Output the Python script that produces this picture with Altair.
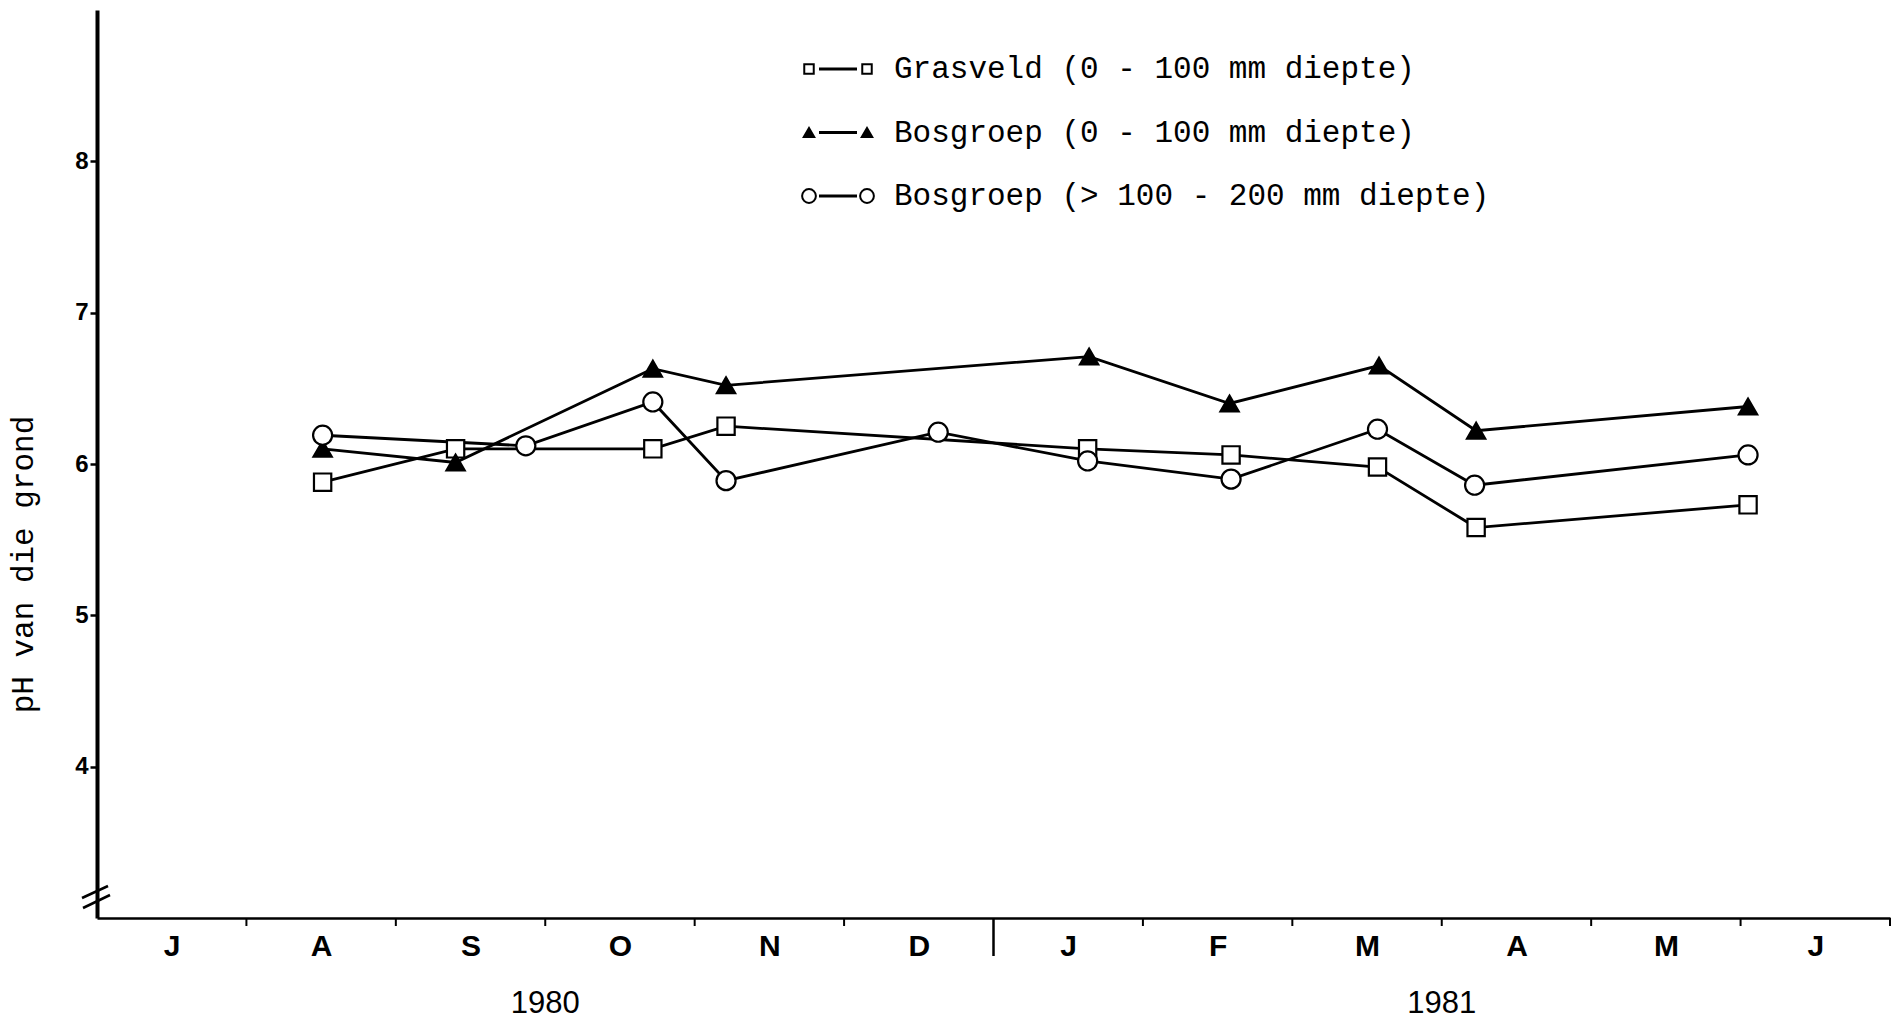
import json
import altair as alt
import pandas as pd

# ---------------- data ----------------
months = ["J", "A", "S", "O", "N", "D", "J", "F", "M", "A", "M", "J"]
month_centres = [0.5, 1.5, 2.5, 3.5, 4.5, 5.5, 6.5, 7.5, 8.5, 9.5, 10.5, 11.5]
month_ticks = [1, 2, 3, 4, 5, 7, 8, 9, 10, 11, 12]
year_break = [6]
years = ["1980", "1981"]
year_centres = [3, 9]
y_ticks = [4, 5, 6, 7, 8]

series = [
    "Grasveld (0 - 100 mm diepte)",
    "Bosgroep (0 - 100 mm diepte)",
    "Bosgroep (> 100 - 200 mm diepte)",
]
shapes = ["square", "triangle-up", "circle"]
fills = ["white", "black", "white"]
sizes = [115, 140, 165]
legend_sizes = [90, 110, 190]

gras_x = [1.51, 2.40, 3.72, 4.21, 6.63, 7.59, 8.57, 9.23, 11.05]
gras_y = [5.88, 6.10, 6.10, 6.25, 6.10, 6.06, 5.98, 5.58, 5.73]
bos_x = [1.51, 2.40, 3.72, 4.21, 6.64, 7.58, 8.58, 9.23, 11.05]
bos_y = [6.10, 6.01, 6.63, 6.52, 6.71, 6.40, 6.65, 6.22, 6.38]
diep_x = [1.51, 2.87, 3.72, 4.21, 5.63, 6.63, 7.59, 8.57, 9.22, 11.05]
diep_y = [6.19, 6.12, 6.41, 5.89, 6.21, 6.02, 5.90, 6.23, 5.86, 6.06]

# ---------------- tables ----------------
rows = []
for name, xs, ys in [(series[0], gras_x, gras_y), (series[1], bos_x, bos_y), (series[2], diep_x, diep_y)]:
    for xv, yv in zip(xs, ys):
        rows.append({"series": name, "x": xv, "y": yv})
df = pd.DataFrame(rows)

W, H = 1793, 908

x_scale = alt.Scale(domain=[0, 12], nice=False, zero=False)
y_scale = alt.Scale(domain=[3, 9], nice=False, zero=False)

x_axis = alt.Axis(
    values=month_centres,
    ticks=False,
    grid=False,
    labelExpr=f"{json.dumps(months)}[floor(datum.value)]",
    labelFont="Liberation Sans",
    labelFontWeight="bold",
    labelFontSize=30,
    labelColor="black",
    labelPadding=13,
    domainColor="black",
    domainWidth=2.5,
    title=None,
)
y_axis = alt.Axis(
    values=y_ticks,
    grid=False,
    tickSize=7,
    tickWidth=2.5,
    tickColor="black",
    labelFont="Liberation Sans",
    labelFontWeight="bold",
    labelFontSize=24,
    labelColor="black",
    labelPadding=2,
    domainColor="black",
    domainWidth=4,
    title="pH van die grond",
    titleFont="Liberation Mono",
    titleFontSize=31,
    titleFontWeight="normal",
    titleColor="black",
    titleX=-58,
    titleY=554,
    titleBaseline="bottom",
)

X = alt.X("x:Q", scale=x_scale, axis=x_axis)
Y = alt.Y("y:Q", scale=y_scale, axis=y_axis)

shape_enc = alt.Shape("series:N", scale=alt.Scale(domain=series, range=shapes), legend=None)
fill_enc = alt.Fill("series:N", scale=alt.Scale(domain=series, range=fills), legend=None)
size_enc = alt.Size("series:N", scale=alt.Scale(domain=series, range=sizes), legend=None)
halo_size_enc = alt.Size("series:N", scale=alt.Scale(domain=series, range=[s * 2.6 for s in sizes]), legend=None)

lines = alt.Chart(df).mark_line(color="black", strokeWidth=2.8).encode(
    x=X, y=Y, detail="series:N", order="x:Q"
)
halos = alt.Chart(df).mark_point(filled=True, color="white", opacity=1).encode(
    x=X, y=Y, shape=shape_enc, size=halo_size_enc
)
markers = alt.Chart(df).mark_point(stroke="black", strokeWidth=2.2, opacity=1, fillOpacity=1).encode(
    x=X, y=Y, shape=shape_enc, fill=fill_enc, size=size_enc
)

# axis ticks (short) and the year divider (long)
tick_df = pd.DataFrame({"x": month_ticks})
ticks = alt.Chart(tick_df).mark_rule(color="black", strokeWidth=2).encode(
    x=X, y=alt.value(H), y2=alt.value(H + 8)
)
break_df = pd.DataFrame({"x": year_break})
divider = alt.Chart(break_df).mark_rule(color="black", strokeWidth=2.5).encode(
    x=X, y=alt.value(H), y2=alt.value(H + 38)
)

# year labels
year_df = pd.DataFrame({"x": year_centres, "label": years})
year_text = alt.Chart(year_df).mark_text(
    font="Liberation Sans", fontSize=31, color="black", baseline="middle", align="center"
).encode(x=X, y=alt.value(H + 86), text="label:N")

# axis break marks on the y axis
brk1 = alt.Chart(pd.DataFrame({"k": [0]})).mark_rule(color="black", strokeWidth=2.5).encode(
    x=alt.value(-15), x2=alt.value(11), y=alt.value(888), y2=alt.value(876)
)
brk2 = alt.Chart(pd.DataFrame({"k": [0]})).mark_rule(color="black", strokeWidth=2.5).encode(
    x=alt.value(-14), x2=alt.value(13), y=alt.value(898), y2=alt.value(885)
)

# manual legend
legend_layers = []
for i, name in enumerate(series):
    ly = 59 + i * 63.5
    ldf = pd.DataFrame({"series": [name]})
    legend_layers.append(
        alt.Chart(ldf).mark_rule(color="black", strokeWidth=3.2).encode(
            x=alt.value(722), x2=alt.value(760), y=alt.value(ly)
        )
    )
    for mx in (712, 770):
        legend_layers.append(
            alt.Chart(ldf).mark_point(
                shape=shapes[i], fill=fills[i], stroke="black", strokeWidth=2,
                size=legend_sizes[i], opacity=1, fillOpacity=1,
            ).encode(x=alt.value(mx), y=alt.value(ly))
        )
    legend_layers.append(
        alt.Chart(ldf).mark_text(
            font="Liberation Mono", fontSize=31, color="black", align="left", baseline="middle"
        ).encode(x=alt.value(797), y=alt.value(ly), text="series:N")
    )

chart = alt.layer(
    lines, halos, markers, ticks, divider, year_text, brk1, brk2, *legend_layers
).properties(
    width=W,
    height=H,
    autosize=alt.AutoSizeParams(type="none"),
    padding={"left": 97, "top": 10, "right": 12, "bottom": 104},
    background="white",
).configure_view(stroke=None)

chart.save("out.html", embed_options={"renderer": "svg", "actions": False})
